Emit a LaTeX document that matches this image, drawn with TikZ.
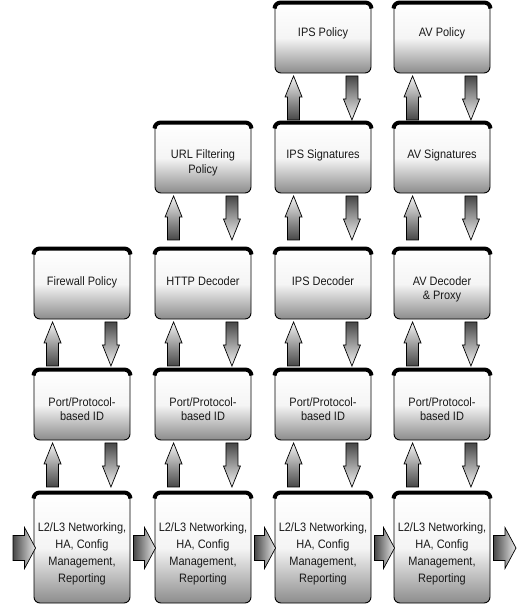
\documentclass[tikz,border=0pt]{standalone}
\usepackage{fontspec}
\setmainfont{Liberation Sans}[FakeStretch=0.9]
\usetikzlibrary{calc}
\tikzset{
 blk/.style={rectangle, rounded corners=6pt, draw=black, line width=0.9pt, minimum width=96pt, minimum height=70pt, inner sep=0pt, top color=white, bottom color=black!45, middle color=black!4},
 blk5/.style={blk, minimum height=110pt},
 lbl/.style={anchor=north, align=center, inner sep=0pt, text=black!90, font=\fontsize{12.2}{14.5}\selectfont},
 lbl5/.style={lbl, font=\fontsize{12.2}{17.2}\selectfont},
 topband/.style={line width=4pt, rounded corners=6pt},
 arrup/.style={draw=black, line width=0.7pt, top color=black!4, bottom color=black!72},
 arrdn/.style={draw=black, line width=0.7pt, top color=black!72, bottom color=black!4},
 arrrt/.style={draw=black, line width=0.7pt, left color=black!72, right color=black!8},
}
\newcommand\uparr[1]{\path[arrup] ($(#1.south west)+(19,2.5)$) -- ++(8.5,21) -- ++(-2.5,0) -- ++(0,23) -- ++(-12,0) -- ++(0,-23) -- ++(-2.5,0) -- cycle;}
\newcommand\dnarr[1]{\path[arrdn] ($(#1.south east)+(-25.5,2.5)$) -- ++(12,0) -- ++(0,23) -- ++(2.5,0) -- ++(-8.5,21) -- ++(-8.5,-21) -- ++(2.5,0) -- cycle;}
\newcommand\rtarr[2]{\path[arrrt] ($(#1)+(0,-12.5)$) -- ($(#2)+(-11,-12.5)$) -- ($(#2)+(-11,-20.5)$) -- (#2) -- ($(#2)+(-11,20.5)$) -- ($(#2)+(-11,12.5)$) -- ($(#1)+(0,12.5)$) -- cycle;}
\newcommand\band[1]{\draw[topband] ([yshift=-6pt]#1.north west) -- (#1.north west) -- (#1.north east) -- ([yshift=-6pt]#1.north east);}
\begin{document}
\begin{tikzpicture}[x=1pt,y=-1pt]
\useasboundingbox (0,0) rectangle (523,611);
% boxes
\node[blk] (c1) at (323,38) {};
\node[blk] (d1) at (442,38) {};
\node[blk] (b2) at (203,158) {};
\node[blk] (c2) at (323,158) {};
\node[blk] (d2) at (442,158) {};
\node[blk] (a3) at (82,284) {};
\node[blk] (b3) at (203,284) {};
\node[blk] (c3) at (323,284) {};
\node[blk] (d3) at (442,284) {};
\node[blk] (a4) at (82,405) {};
\node[blk] (b4) at (203,405) {};
\node[blk] (c4) at (323,405) {};
\node[blk] (d4) at (442,405) {};
\node[blk5] (a5) at (82,548) {};
\node[blk5] (b5) at (203,548) {};
\node[blk5] (c5) at (323,548) {};
\node[blk5] (d5) at (442,548) {};
\foreach \n in {c1,d1,b2,c2,d2,a3,b3,c3,d3,a4,b4,c4,d4,a5,b5,c5,d5}{\band{\n}}
% labels
\node[lbl] (c1t) at ($(c1.north)+(0,25)$) {IPS Policy};
\node[lbl] (d1t) at ($(d1.north)+(0,25)$) {AV Policy};
\node[lbl] (b2t) at ($(b2.north)+(0,27)$) {URL Filtering\\Policy};
\node[lbl] (c2t) at ($(c2.north)+(0,27)$) {IPS Signatures};
\node[lbl] (d2t) at ($(d2.north)+(0,27)$) {AV Signatures};
\node[lbl] (a3t) at ($(a3.north)+(0,27.5)$) {Firewall Policy};
\node[lbl] (b3t) at ($(b3.north)+(0,27.5)$) {HTTP Decoder};
\node[lbl] (c3t) at ($(c3.north)+(0,27.5)$) {IPS Decoder};
\node[lbl] (d3t) at ($(d3.north)+(0,27.5)$) {AV Decoder\\\&~Proxy};
\foreach \n in {a4,b4,c4,d4}{\node[lbl] (\n t) at ($(\n.north)+(0,27.5)$) {Port/Protocol-\\based ID};}
\foreach \n in {a5,b5,c5,d5}{\node[lbl5] (\n t) at ($(\n.north)+(0,29.5)$) {L2/L3 Networking,\\HA, Config\\Management,\\Reporting};}
% vertical arrows
\foreach \n in {c1,d1,b2,c2,d2,a3,b3,c3,d3,a4,b4,c4,d4}{\uparr{\n}\dnarr{\n}}
% horizontal arrows
\coordinate (in) at (13,548);
\coordinate (out) at (516,548);
\coordinate (h0e) at ($(a5.west)+(2,0)$);
\coordinate (h1s) at ($(a5.east)+(3,0)$);
\coordinate (h1e) at ($(b5.west)+(1,0)$);
\coordinate (h2s) at ($(b5.east)+(3,0)$);
\coordinate (h2e) at ($(c5.west)+(1,0)$);
\coordinate (h3s) at ($(c5.east)+(3,0)$);
\coordinate (h3e) at ($(d5.west)+(1,0)$);
\coordinate (h4s) at ($(d5.east)+(3,0)$);
\rtarr{in}{h0e}
\rtarr{h1s}{h1e}
\rtarr{h2s}{h2e}
\rtarr{h3s}{h3e}
\rtarr{h4s}{out}
\end{tikzpicture}
\end{document}
